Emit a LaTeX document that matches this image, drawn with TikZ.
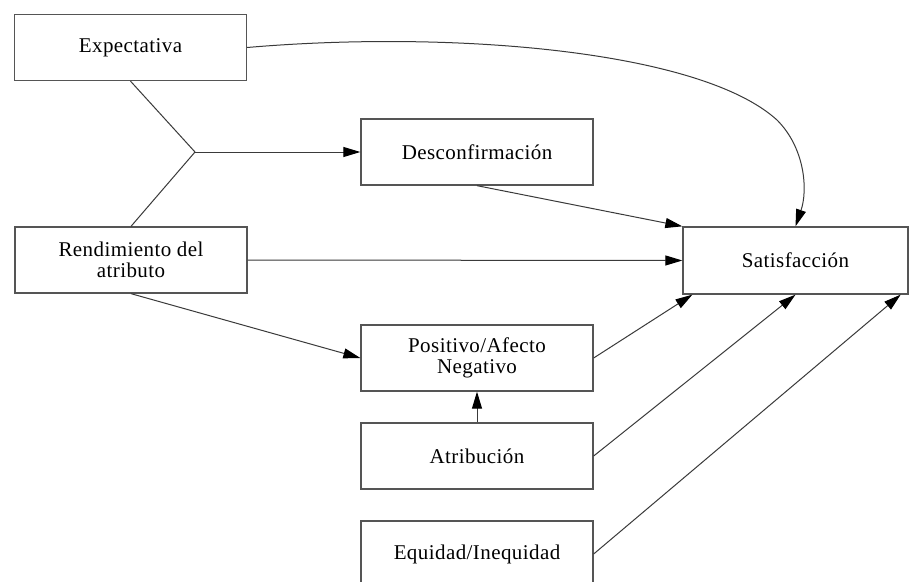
\documentclass[tikz,border=0pt]{standalone}
\usepackage{fontspec}
\setmainfont{Liberation Serif}[LetterSpace=2]
\usetikzlibrary{arrows.meta}
\definecolor{boxgray}{HTML}{555555}
\definecolor{linegray}{HTML}{3A3A3A}
\begin{document}
\begin{tikzpicture}[x=1pt,y=-1pt,
  box/.style={draw=boxgray, line width=1.3pt, fill=white,
    minimum width=232pt, minimum height=66pt, inner sep=0pt,
    align=center, font=\fontsize{21}{21}\selectfont},
  link/.style={draw=linegray, line width=1pt},
  arr/.style={link, -{Triangle[length=17pt,width=10pt,color=black]}}]
  \clip (0,0) rectangle (910,581);
  \fill[white] (0,0) rectangle (910,581);

  % boxes
  \node[box] (exp)  at (130.5,47.5) {Expectativa};
  \node[box] (desc) at (477,152)    {Desconfirmación};
  \node[box] (rend) at (131,260)    {Rendimiento del\\atributo};
  \node[box, minimum width=225pt, minimum height=67pt] (sat) at (795.5,260.5) {Satisfacción};
  \node[box] (pos)  at (477,358)    {Positivo/Afecto\\Negativo};
  \node[box] (atr)  at (477,456)    {Atribución};
  \node[box] (equ)  at (477,554)    {Equidad/Inequidad};

  % points on the lower edge of Satisfacción
  \coordinate (s1) at ([xshift=10pt]sat.south west);
  \coordinate (s3) at ([xshift=-8pt]sat.south east);
  \coordinate (j) at (195,152);

  % connectors
  \draw[link] (exp.south) -- (j) -- (rend.north);
  \draw[arr] (j) -- (desc.west);
  \draw[arr] (exp.east) .. controls (450,30) and (700,50) .. (777,120)
             .. controls (805,148) and (808,190) .. (sat.north);
  \draw[arr] (desc.south) -- (sat.north west);
  \draw[arr] (rend.east) -- (sat.west);
  \draw[arr] (rend.south) -- (pos.west);
  \draw[arr] (atr.north) -- (pos.south);
  \draw[arr] (pos.east) -- (s1);
  \draw[arr] (atr.east) -- (sat.south);
  \draw[arr] (equ.east) -- (s3);
\end{tikzpicture}
\end{document}
